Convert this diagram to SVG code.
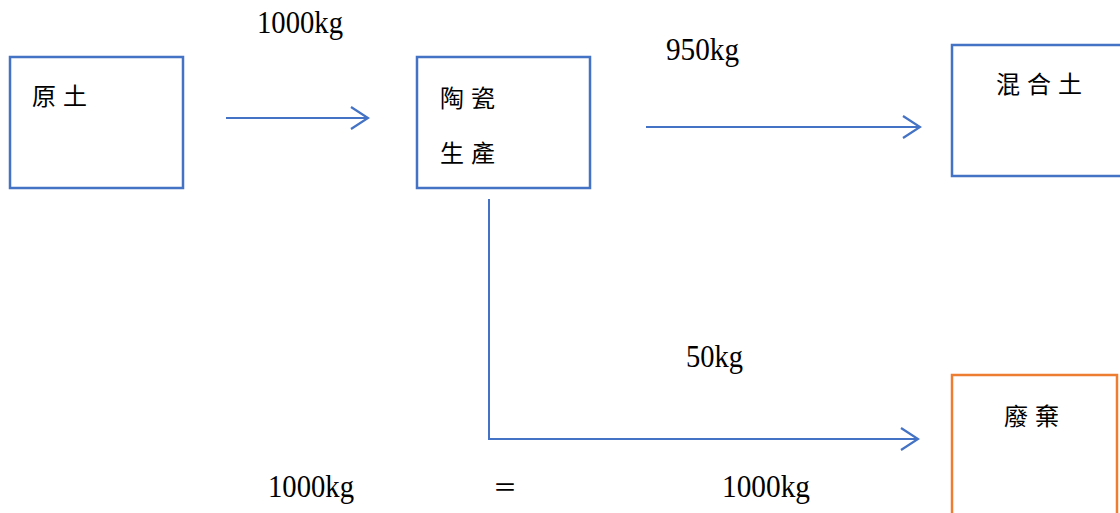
<svg xmlns="http://www.w3.org/2000/svg" width="1120" height="513" viewBox="0 0 1120 513">
<defs>
<style>
.box{fill:#fff;stroke:#4472C4;stroke-width:2.5}
.waste{fill:#fff;stroke:#ED7D31;stroke-width:2.5}
.cjk{font-family:"Liberation Serif","Noto Sans CJK TC",serif;font-size:24px;letter-spacing:7px;fill:#000}
.num{font-family:"Liberation Serif","Noto Sans CJK TC",serif;font-size:31px;fill:#000}
.conn{fill:none;stroke:#4472C4;stroke-width:2}
</style>
<marker id="arr" viewBox="0 0 20 24" refX="18" refY="12" markerWidth="20" markerHeight="24" markerUnits="userSpaceOnUse" orient="auto">
<path d="M1,1 L18,12 L1,23" fill="none" stroke="#4472C4" stroke-width="2.2"/>
</marker>
</defs>
<rect width="1120" height="513" fill="#fff"/>
<g id="connectors">
<line class="conn" x1="226" y1="118" x2="368" y2="118" marker-end="url(#arr)"/>
<line class="conn" x1="646" y1="127" x2="920" y2="127" marker-end="url(#arr)"/>
<polyline class="conn" points="489,199 489,439 918,439" marker-end="url(#arr)"/>
</g>
<g id="node-raw">
<rect class="box" x="10" y="57" width="173" height="131"/>
<text class="cjk" x="32" y="105">原土</text>
</g>
<g id="node-production">
<rect class="box" x="417" y="57" width="173" height="131"/>
<text class="cjk" x="440" y="107">陶瓷</text>
<text class="cjk" x="440" y="162">生產</text>
</g>
<g id="node-mixed">
<rect class="box" x="952" y="45" width="200" height="131"/>
<text class="cjk" x="996" y="93">混合土</text>
</g>
<g id="node-waste">
<rect class="waste" x="952" y="375" width="165" height="160"/>
<text class="cjk" x="1004" y="425">廢棄</text>
</g>
<g id="labels">
<text class="num" x="257" y="33" textLength="86" lengthAdjust="spacingAndGlyphs">1000kg</text>
<text class="num" x="666" y="60" textLength="73" lengthAdjust="spacingAndGlyphs">950kg</text>
<text class="num" x="686" y="367" textLength="57" lengthAdjust="spacingAndGlyphs">50kg</text>
<text class="num" x="268" y="497" textLength="86" lengthAdjust="spacingAndGlyphs">1000kg</text>
<text class="cjk" x="493" y="496">＝</text>
<text class="num" x="722" y="497" textLength="88" lengthAdjust="spacingAndGlyphs">1000kg</text>
</g>
</svg>
